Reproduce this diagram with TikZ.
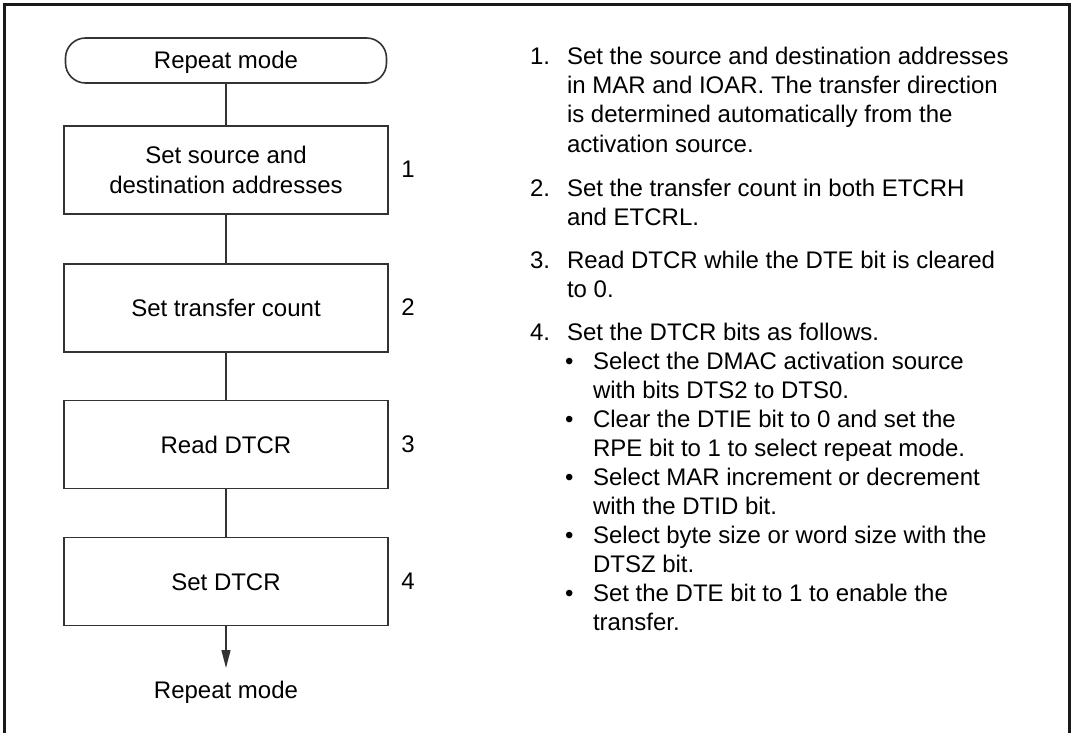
\documentclass[tikz,border=0pt]{standalone}
\usepackage{fontspec}
\setmainfont{Liberation Sans}
\usetikzlibrary{arrows.meta}
\begin{document}
\begin{tikzpicture}[x=1pt,y=-1pt,
  every node/.style={inner sep=0pt,outer sep=0pt,font=\fontsize{24}{29}\selectfont,text=black},
  stepbox/.style={draw=black!80,line width=1.6pt,minimum width=324pt,minimum height=88pt,align=center,text height=17pt,text depth=0pt},
  term/.style={draw=black!80,line width=1.6pt,rounded corners=20pt,minimum width=321pt,minimum height=45pt,text height=17pt,text depth=0pt},
  conn/.style={draw=black!80,line width=1.3pt},
  txt/.style={anchor=base west},
  num/.style={anchor=base}]
\useasboundingbox (0,0) rectangle (1073,733);
\draw[line width=3pt,black!90] (4.5,745) -- (4.5,4.5) -- (1069.5,4.5) -- (1069.5,745);
% flowchart
\node[term] (t) at (226,60.5) {Repeat mode};
\node[stepbox,text height=46pt] (b1) at (226,170) {Set source and\\destination addresses};
\node[stepbox] (b2) at (226,308) {Set transfer count};
\node[stepbox] (b3) at (226,444.5) {Read DTCR};
\node[stepbox] (b4) at (226,581.5) {Set DTCR};
\node[num] (n1) at (408,177.5) {1};
\node[num] (n2) at (408,315.5) {2};
\node[num] (n3) at (408,452.5) {3};
\node[num] (n4) at (408,589.5) {4};
\node[num] (end) at (226,698) {Repeat mode};
\coordinate (tip) at (226,668);
\draw[conn] (t) -- (b1);
\draw[conn] (b1) -- (b2);
\draw[conn] (b2) -- (b3);
\draw[conn] (b3) -- (b4);
\draw[conn,-{Triangle[length=18pt,width=9pt]}] (b4.south) -- (tip);
% right text
\node[txt] (i1) at (530,65) {1.};
\node[txt] (i1a) at (567,65) {Set the source and destination addresses};
\node[txt] (i1b) at (567,94) {in MAR and IOAR. The transfer direction};
\node[txt] (i1c) at (567,123) {is determined automatically from the};
\node[txt] (i1d) at (567,152) {activation source.};
\node[txt] (i2) at (530,196) {2.};
\node[txt] (i2a) at (567,196) {Set the transfer count in both ETCRH};
\node[txt] (i2b) at (567,225) {and ETCRL.};
\node[txt] (i3) at (530,268) {3.};
\node[txt] (i3a) at (567,268) {Read DTCR while the DTE bit is cleared};
\node[txt] (i3b) at (567,297) {to 0.};
\node[txt] (i4) at (530,340) {4.};
\node[txt] (i4a) at (567,340) {Set the DTCR bits as follows.};
\node[txt] (p1) at (565,369) {•};
\node[txt] (p1a) at (593,369) {Select the DMAC activation source};
\node[txt] (p1b) at (593,398) {with bits DTS2 to DTS0.};
\node[txt] (p2) at (565,427) {•};
\node[txt] (p2a) at (593,427) {Clear the DTIE bit to 0 and set the};
\node[txt] (p2b) at (593,456) {RPE bit to 1 to select repeat mode.};
\node[txt] (p3) at (565,485) {•};
\node[txt] (p3a) at (593,485) {Select MAR increment or decrement};
\node[txt] (p3b) at (593,514) {with the DTID bit.};
\node[txt] (p4) at (565,543) {•};
\node[txt] (p4a) at (593,543) {Select byte size or word size with the};
\node[txt] (p4b) at (593,572) {DTSZ bit.};
\node[txt] (p5) at (565,601) {•};
\node[txt] (p5a) at (593,601) {Set the DTE bit to 1 to enable the};
\node[txt] (p5b) at (593,630) {transfer.};
\end{tikzpicture}
\end{document}
